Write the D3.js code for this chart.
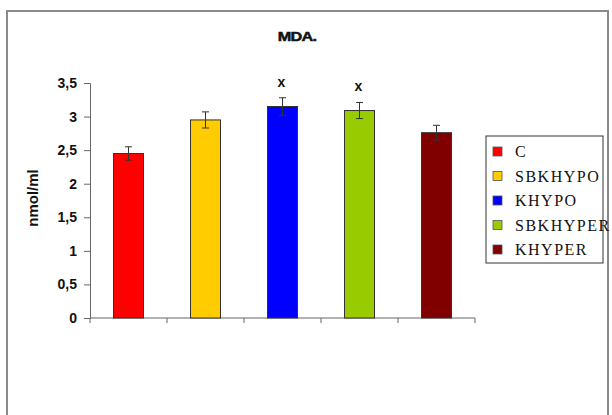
<!DOCTYPE html>
<html lang="en">
<head>
<meta charset="UTF-8">
<title>MDA.</title>
<script src="https://cdnjs.cloudflare.com/ajax/libs/d3/7.8.5/d3.min.js"></script>
<style>
    body { margin: 0; background: #fff; }
    svg { display: block; }
    .tick-label { font-family: Arial, "Liberation Sans", sans-serif; font-weight: bold; font-size: 14px; fill: #111; }
    .legend-text { font-family: "Liberation Serif", "Times New Roman", serif; font-size: 16px; letter-spacing: 1.5px; fill: #111; }
</style>
</head>
<body>
<div id="chart"></div>
<script>
    // Data
    const groups = ["C", "SBKHYPO", "KHYPO", "SBKHYPER", "KHYPER"];
    const values = [2.45, 2.95, 3.15, 3.09, 2.76];
    const errors = [0.10, 0.12, 0.13, 0.12, 0.11];
    const marks = ["", "", "x", "x", ""];
    const colors = ["#ff0000", "#ffcc00", "#0000ff", "#99cc00", "#800000"];
    const yTicks = [0, 0.5, 1, 1.5, 2, 2.5, 3, 3.5];

    const W = 612, H = 415;
    const plot = { left: 90, right: 475, top: 83, bottom: 318 };

    const svg = d3.select("#chart").append("svg")
        .attr("width", W)
        .attr("height", H);

    // outer frame
    svg.append("rect")
        .attr("x", 7).attr("y", 11)
        .attr("width", 601).attr("height", 420)
        .attr("fill", "none")
        .attr("stroke", "#8a8a8a")
        .attr("stroke-width", 2);

    const x = d3.scaleBand()
        .domain(groups)
        .range([plot.left, plot.right]);

    const y = d3.scaleLinear()
        .domain([0, 3.5])
        .range([plot.bottom, plot.top]);

    const barW = 30;
    const cx = d => x(d) + x.bandwidth() / 2;

    // y axis
    const yAxis = svg.append("g")
        .attr("transform", `translate(${plot.left},0)`)
        .call(d3.axisLeft(y).tickValues(yTicks).tickSize(6).tickPadding(7)
            .tickFormat(d => String(d).replace(".", ",")));
    yAxis.select(".domain").attr("stroke", "#666");
    yAxis.selectAll(".tick line").attr("stroke", "#666");
    yAxis.selectAll(".tick text").attr("class", "tick-label").attr("fill", "#111");

    // x axis: line plus ticks at category boundaries
    const bounds = groups.map(g => x(g)).concat([plot.right]);
    svg.append("line")
        .attr("x1", plot.left).attr("x2", plot.right)
        .attr("y1", y(0)).attr("y2", y(0))
        .attr("stroke", "#666");
    svg.selectAll(".xtick")
        .data(bounds)
        .join("line")
        .attr("class", "xtick")
        .attr("x1", d => d).attr("x2", d => d)
        .attr("y1", y(0)).attr("y2", y(0) + 5)
        .attr("stroke", "#666");

    // bars
    svg.selectAll(".bar")
        .data(groups)
        .join("rect")
        .attr("class", "bar")
        .attr("x", d => cx(d) - barW / 2)
        .attr("y", (d, i) => y(values[i]))
        .attr("width", barW)
        .attr("height", (d, i) => y(0) - y(values[i]))
        .attr("fill", (d, i) => colors[i])
        .attr("stroke", "#333")
        .attr("stroke-width", 1);

    // error bars
    const err = svg.selectAll(".err")
        .data(groups)
        .join("g")
        .attr("class", "err")
        .attr("stroke", "#333")
        .attr("stroke-width", 1);
    err.append("line")
        .attr("x1", cx).attr("x2", cx)
        .attr("y1", (d, i) => y(values[i] + errors[i]))
        .attr("y2", (d, i) => y(values[i] - errors[i]));
    err.append("line")
        .attr("x1", d => cx(d) - 3.5)
        .attr("x2", d => cx(d) + 3.5)
        .attr("y1", (d, i) => y(values[i] + errors[i]))
        .attr("y2", (d, i) => y(values[i] + errors[i]));
    err.append("line")
        .attr("x1", d => cx(d) - 3.5)
        .attr("x2", d => cx(d) + 3.5)
        .attr("y1", (d, i) => y(values[i] - errors[i]))
        .attr("y2", (d, i) => y(values[i] - errors[i]));

    // significance marks
    svg.selectAll(".mark")
        .data(groups)
        .join("text")
        .attr("class", "mark")
        .attr("x", d => cx(d) - 1)
        .attr("y", (d, i) => y(values[i] + errors[i]) - 11)
        .attr("text-anchor", "middle")
        .attr("font-family", "Arial, sans-serif")
        .attr("font-weight", "bold")
        .attr("font-size", 14)
        .attr("fill", "#111")
        .text((d, i) => marks[i]);

    // title
    svg.append("text")
        .attr("transform", "translate(297,41) scale(1.25,1)")
        .attr("text-anchor", "middle")
        .attr("font-family", "Arial, sans-serif")
        .attr("font-weight", "900")
        .attr("font-size", 13)
        .attr("letter-spacing", -0.6)
        .attr("stroke", "#111")
        .attr("stroke-width", 0.5)
        .attr("fill", "#111")
        .text("MDA.");

    // y axis title
    svg.append("text")
        .attr("transform", "translate(38,198) rotate(-90)")
        .attr("text-anchor", "middle")
        .attr("font-family", "Arial, sans-serif")
        .attr("font-weight", "bold")
        .attr("font-size", 15)
        .attr("fill", "#111")
        .text("nmol/ml");

    // legend
    const legend = svg.append("g");
    legend.append("rect")
        .attr("x", 486).attr("y", 136)
        .attr("width", 117).attr("height", 127)
        .attr("fill", "#fff")
        .attr("stroke", "#333")
        .attr("stroke-width", 1);

    const ly = d3.scalePoint()
        .domain(groups)
        .range([151.5, 249.5]);

    const items = legend.selectAll(".item")
        .data(groups)
        .join("g")
        .attr("class", "item")
        .attr("transform", d => `translate(0,${ly(d)})`);
    items.append("rect")
        .attr("x", 493).attr("y", -4.5)
        .attr("width", 9).attr("height", 9)
        .attr("fill", (d, i) => colors[i])
        .attr("stroke", "#555")
        .attr("stroke-width", 0.8);
    items.append("text")
        .attr("class", "legend-text")
        .attr("x", 515)
        .attr("y", 5.5)
        .text(d => d);
</script>
</body>
</html>
